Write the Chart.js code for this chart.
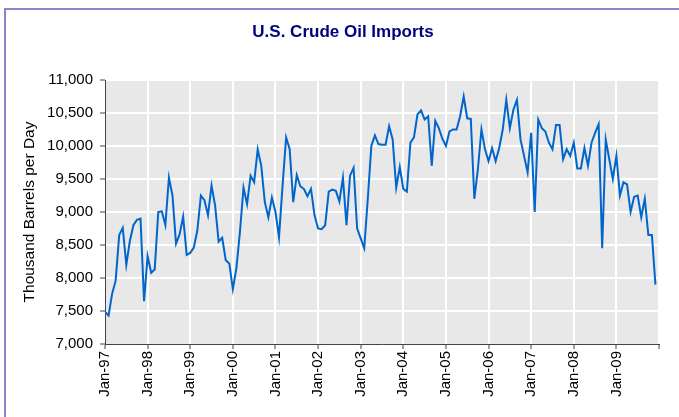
<!DOCTYPE html>
<html><head><meta charset="utf-8">
<script src="https://cdn.jsdelivr.net/npm/chart.js@4"></script>
<style>
html,body{margin:0;padding:0;background:#fff;overflow:hidden;}
#wrap{position:relative;width:679px;height:417px;overflow:hidden;}
#frame{position:absolute;left:4px;top:8px;width:720px;height:500px;border:2px solid #8686C8;box-sizing:border-box;}
canvas{position:absolute;left:0;top:0;}
</style></head><body>
<div id="wrap"><div id="frame"></div><canvas id="c" width="679" height="417"></canvas></div>
<script>
const chartTitle = 'U.S. Crude Oil Imports';
const yAxisTitle = 'Thousand Barrels per Day';
const yearLabels = ['Jan-97','Jan-98','Jan-99','Jan-00','Jan-01','Jan-02','Jan-03','Jan-04','Jan-05','Jan-06','Jan-07','Jan-08','Jan-09'];

const imports1997 = [7490, 7430, 7760, 7960, 8650, 8760, 8200, 8560, 8800, 8880, 8900, 7650];
const imports1998 = [8330, 8080, 8130, 9000, 9010, 8800, 9520, 9250, 8520, 8660, 8930, 8350];
const imports1999 = [8380, 8460, 8720, 9250, 9180, 8950, 9400, 9100, 8550, 8610, 8270, 8220];
const imports2000 = [7830, 8150, 8700, 9370, 9120, 9550, 9450, 9950, 9700, 9150, 8920, 9220];
const imports2001 = [9000, 8620, 9400, 10130, 9950, 9150, 9560, 9390, 9350, 9240, 9350, 8950];
const imports2002 = [8750, 8740, 8800, 9310, 9340, 9320, 9160, 9520, 8800, 9550, 9670, 8750];
const imports2003 = [8600, 8450, 9200, 10000, 10160, 10030, 10020, 10020, 10300, 10100, 9370, 9680];
const imports2004 = [9350, 9310, 10050, 10130, 10480, 10540, 10400, 10450, 9700, 10380, 10270, 10110];
const imports2005 = [10000, 10220, 10250, 10250, 10450, 10750, 10420, 10410, 9200, 9650, 10250, 9950];
const imports2006 = [9770, 9970, 9770, 9970, 10250, 10700, 10270, 10550, 10700, 10100, 9850, 9600];
const imports2007 = [10200, 9000, 10400, 10270, 10220, 10050, 9950, 10320, 10320, 9800, 9950, 9850];
const imports2008 = [10050, 9660, 9660, 9970, 9700, 10050, 10200, 10330, 8450, 10100, 9800, 9500];
const imports2009 = [9850, 9250, 9450, 9420, 9000, 9230, 9250, 8920, 9200, 8650, 8650, 7900];

const imports = [].concat(imports1997, imports1998, imports1999, imports2000, imports2001,
  imports2002, imports2003, imports2004, imports2005, imports2006, imports2007, imports2008, imports2009);
const points = imports.map((v, i) => ({x: i, y: v}));

const FONT = '"Liberation Sans", Arial, sans-serif';

const bgPlugin = {
  id: 'plotBg',
  beforeDraw(chart) {
    const a = chart.chartArea, c = chart.ctx;
    c.save(); c.fillStyle = '#E8E8E8';
    c.fillRect(a.left, a.top, a.right - a.left, a.bottom - a.top);
    c.restore();
  }
};
const titlePlugin = {
  id: 'titleText',
  afterDraw(chart) {
    const c = chart.ctx;
    c.save();
    c.font = 'bold 17px ' + FONT;
    c.fillStyle = '#000080';
    c.textAlign = 'center';
    c.textBaseline = 'middle';
    c.fillText(chartTitle, 343, 32);
    c.restore();
  }
};

new Chart(document.getElementById('c'), {
  type: 'line',
  data: { datasets: [{ data: points, borderColor: '#0066CC', borderWidth: 2, pointRadius: 0, tension: 0, fill: false }] },
  options: {
    responsive: false, animation: false, devicePixelRatio: 1,
    layout: { padding: { left: 0, right: 17, top: 80, bottom: 0 } },
    plugins: { legend: { display: false }, tooltip: { enabled: false }, title: { display: false } },
    scales: {
      x: {
        type: 'linear', min: 0, max: 156,
        grid: { color: ctx => ctx.index === 0 ? 'rgba(0,0,0,0)' : '#FFFFFF', lineWidth: 2, tickColor: '#444', tickLength: 5, tickWidth: 1 },
        border: { color: '#444', width: 1 },
        ticks: { stepSize: 12, autoSkip: false, maxRotation: 90, minRotation: 90, color: '#000', padding: 2,
          font: { family: FONT, size: 15 },
          callback: v => yearLabels[v / 12] || '' },
        afterFit: s => { s.height = 73; }
      },
      y: {
        min: 7000, max: 11000,
        grid: { color: ctx => ctx.index === 0 ? 'rgba(0,0,0,0)' : '#FFFFFF', lineWidth: 2, tickColor: '#444', tickLength: 5, tickWidth: 1 },
        border: { color: '#444', width: 1 },
        ticks: { stepSize: 500, color: '#000', padding: 7, font: { family: FONT, size: 15 } },
        title: { display: true, text: yAxisTitle, color: '#000', font: { family: FONT, size: 15.5 }, padding: { top: 20, bottom: 0 } },
        afterFit: s => { s.width = 105; }
      }
    }
  },
  plugins: [bgPlugin, titlePlugin]
});
</script>
</body></html>
